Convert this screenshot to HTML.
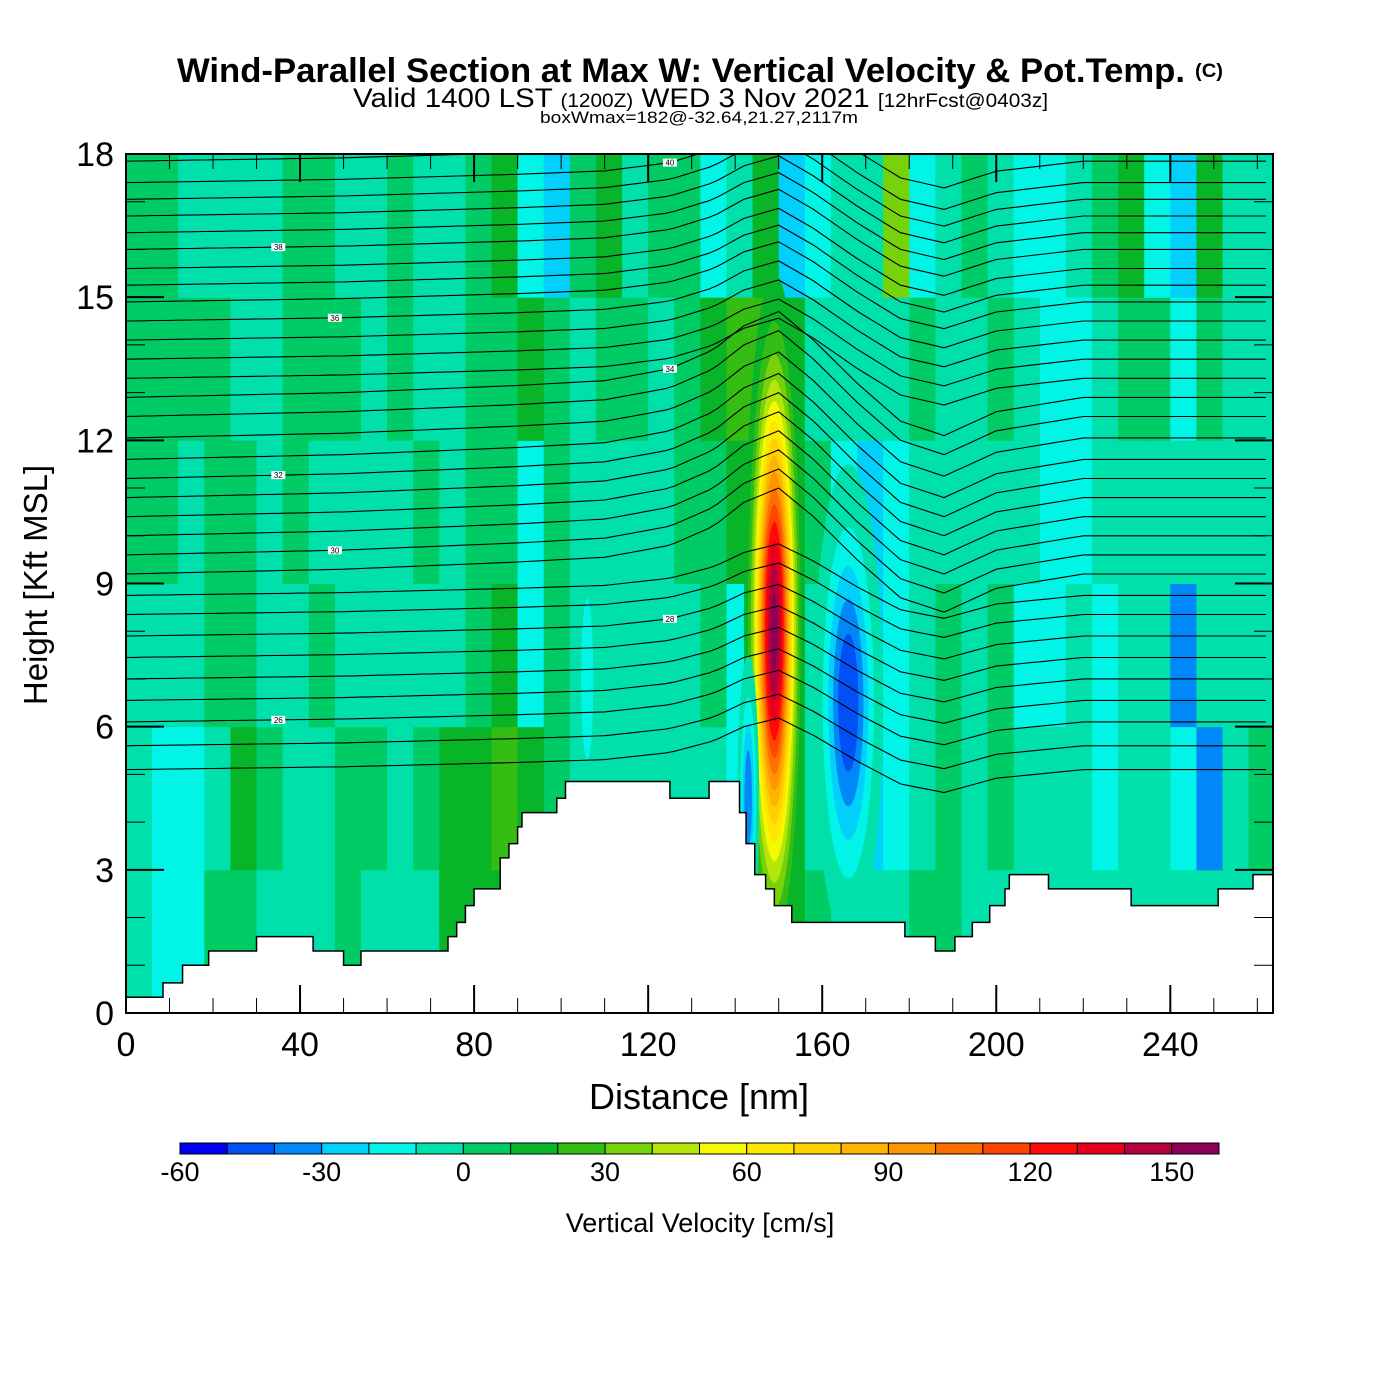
<!DOCTYPE html>
<html><head><meta charset="utf-8"><style>
html,body{margin:0;padding:0;background:#fff;}
svg{display:block;font-family:"Liberation Sans",sans-serif;}
</style></head><body>
<svg id="chart" width="1400" height="1400" viewBox="0 0 1400 1400" xmlns="http://www.w3.org/2000/svg">
<defs><clipPath id="plotclip"><rect x="126" y="154" width="1147" height="859"/></clipPath>
<clipPath id="airclip"><polygon id="airpoly" points=""/></clipPath></defs>
<g>
<text x="177" y="82" font-size="34" font-weight="bold" textLength="1008" lengthAdjust="spacingAndGlyphs">Wind-Parallel Section at Max W: Vertical Velocity &amp; Pot.Temp.</text>
<text x="1195" y="77" font-size="19" font-weight="bold" textLength="28" lengthAdjust="spacingAndGlyphs">(C)</text>
<text x="353" y="107" font-size="27" textLength="695" lengthAdjust="spacingAndGlyphs">Valid 1400 LST <tspan font-size="19">(1200Z)</tspan> WED 3 Nov 2021 <tspan font-size="19">[12hrFcst@0403z]</tspan></text>
<text x="540" y="123" font-size="17" textLength="318" lengthAdjust="spacingAndGlyphs">boxWmax=182@-32.64,21.27,2117m</text>
</g>
<g id="field" clip-path="url(#plotclip)"></g>
<g id="isen" clip-path="url(#airclip)"></g>
<g id="terrain"></g>
<g id="axes"></g>
<g id="cbar"></g>
<text x="699" y="1109" font-size="36" text-anchor="middle">Distance [nm]</text>
<text transform="translate(47,585) rotate(-90)" font-size="33" text-anchor="middle">Height [Kft MSL]</text>
<text x="700" y="1232" font-size="27" text-anchor="middle">Vertical Velocity [cm/s]</text>
</svg>
<script>
// ---- data ----
const colorLevels = [-60,-50,-40,-30,-20,-10,0,10,20,30,40,50,60,70,80,90,100,110,120,130,140,150,160];
const levelColors = ["#0000f5","#0050f5","#0088f8","#00d0fa","#00f5e6","#00e0aa","#00cc66","#08b428","#34be14","#78d20a","#b4e60a","#f5fa00","#ffe600","#ffd000","#ffb400","#ff9600","#ff6e00","#ff4600","#ff0a0a","#e6001e","#b4003c","#8c005a"];
const colorbarLabels = [-60,-30,0,30,60,90,120,150];
const colWidthNm = 6;
// rows: 0-3,3-6,6-9,9-12,12-15,15-18 kft ; 44 columns of 6 nm
const wRow0 = [-5,-15,-15,5,5,-5,-5,-5,5,-5,-5,-5,15,15,15,5,-5,-5,-5,-5,-5,-5,-5,-5,15,15,5,-5,-5,-5,5,5,-5,-5,-5,-5,-5,-5,-5,-5,-5,-5,-5,-5];
const wRow1 = [-5,-15,-15,-5,15,5,-5,-5,5,5,-5,5,15,15,25,15,5,-5,-5,-5,-5,-5,-5,-15,15,15,-5,-15,-25,-15,-5,5,-5,5,-5,-5,-5,-15,-5,-5,-15,-35,-5,5];
const wRow2 = [-5,-5,-5,5,5,-5,-5,5,-5,-5,-5,-5,-5,5,15,-15,5,-5,-5,-5,-5,-5,5,-15,15,15,-5,-25,-25,-15,-5,5,-5,5,-15,-15,-5,-15,-5,-5,-35,-5,-5,-5];
const wRow3 = [5,5,-5,5,5,-5,5,-5,-5,-5,-5,5,-5,5,5,-15,5,-5,-5,-5,-5,5,5,15,15,15,5,-15,-25,-15,-5,-5,-5,-5,-5,-15,-15,-5,-5,-5,-5,-5,-5,-5];
const wRow4 = [5,5,5,5,-5,-5,5,5,5,-5,5,-5,-5,5,5,15,5,-5,5,5,-5,5,15,25,25,15,-5,-5,-5,-5,5,-5,-5,5,-5,-15,-15,-5,5,5,-15,5,-5,-5];
const wRow5 = [5,5,-5,-5,-5,-5,5,5,-5,-5,5,-5,-5,5,15,-15,-25,5,15,-5,5,5,-15,-5,15,-25,-15,-5,-5,35,-15,-5,5,-5,-15,-15,-5,5,15,-15,-25,15,-5,-5];
const wRows = [wRow0,wRow1,wRow2,wRow3,wRow4,wRow5];
// localized features: center distance (nm), center height (kft), peak (cm/s), half-width (nm), half-height (kft)
const featX = [149, 166, 143, 106];
const featH = [8, 6.5, 4.5, 7];
const featPeak = [155, -55, -45, -25];
const featWx = [7, 8, 2.5, 2.5];
const featWh = [7.5, 5, 3, 3];
// terrain steps: [start distance nm, height kft]
const terrX = [0,8.5,13,19,30,43,50,54,74,76,78,80,86,88,90,91,99,101,125,134,141,142.5,144.5,147,149,153,179,186,190.5,194.5,198.5,202,203,212,231,251,259];
const terrH = [0.33,0.63,1.0,1.3,1.6,1.3,1.0,1.3,1.6,1.9,2.25,2.6,3.25,3.55,3.9,4.2,4.5,4.85,4.5,4.85,4.2,3.55,2.9,2.6,2.25,1.9,1.6,1.3,1.6,1.9,2.25,2.6,2.9,2.6,2.25,2.6,2.9];
// potential temperature contours: base height (kft) at left edge
const thetaBase = [17.85,17.4,17.05,16.7,16.35,16.0,15.6,15.25,14.9,14.5,14.1,13.7,13.3,12.9,12.5,12.05,11.6,11.2,10.8,10.4,10.0,9.6,9.2,8.75,8.35,7.9,7.45,7.0,6.55,6.1,5.6,5.1];
const dispX = [0,50,90,110,125,135,142,150,158,168,178,188,200,220,263];
const dispH = [0,0.1,0.25,0.35,0.6,1.0,1.5,1.8,1.2,0.3,-0.5,-0.8,-0.3,0,0];
const thetaLabels = ["40","38","36","34","32","30","28","26","24"];
// ---- axes functions ----
const X0=126, X1=1273, Y0=1013, Y1=154, XMAX=263.6, YMAX=18;
const sx = d => X0 + d*(X1-X0)/XMAX;
const sy = h => Y0 - h*(Y0-Y1)/YMAX;
const NS="http://www.w3.org/2000/svg";
function mk(tag, attrs, parent){const e=document.createElementNS(NS,tag);for(const k in attrs)e.setAttribute(k,attrs[k]);parent.appendChild(e);return e;}
function colorOf(v){let i=Math.floor((v-colorLevels[0])/10);i=Math.max(0,Math.min(levelColors.length-1,i));return levelColors[i];}
const field=document.getElementById('field');
mk('rect',{x:X0,y:Y1,width:X1-X0,height:Y0-Y1,fill:colorOf(-5)},field);
wRows.forEach((row,r)=>{row.forEach((v,c)=>{
  const e=mk('rect',{x:sx(c*colWidthNm),y:sy((r+1)*3),width:sx((c+1)*colWidthNm)-sx(c*colWidthNm)+0.5,height:sy(r*3)-sy((r+1)*3)+0.5,fill:colorOf(v)},field);
  
  
});});
featPeak.forEach((pk,i)=>{
  const base = pk>0?10:-5, sign = pk>0?1:-1;
  const lv=[]; for(let L=base; sign*L<sign*pk; L+=sign*10) lv.push(L);
  lv.forEach(L=>{
    const s=Math.sqrt(Math.log(pk/(L+sign*0.001))/Math.log(pk/base));
    const mid=L+sign*5;
    const e=mk('ellipse',{cx:sx(featX[i]),cy:sy(featH[i]),rx:Math.max(0,sx(featWx[i]*s)-sx(0)),ry:Math.max(0,sy(0)-sy(featWh[i]*s)),fill:colorOf(mid)},field);
    
    
  });
});
// terrain polygon
let tpts=[];
terrX.forEach((x,i)=>{const xe=i<terrX.length-1?terrX[i+1]:XMAX;tpts.push([sx(x),sy(terrH[i])],[sx(xe),sy(terrH[i])]);});
const terr=document.getElementById('terrain');
const tp=mk('polygon',{points:[[X0,Y0],...tpts,[X1,Y0]].map(p=>p.join(',')).join(' '),fill:'#fff',stroke:'#000','stroke-width':1.5},terr);


document.getElementById('airpoly').setAttribute('points',[[X0,Y1],...tpts,[X1,Y1]].map(p=>p.join(',')).join(' '));
// isentropes
function disp(d){for(let i=0;i<dispX.length-1;i++){if(d>=dispX[i]&&d<=dispX[i+1]){const t=(d-dispX[i])/(dispX[i+1]-dispX[i]);return dispH[i]+t*(dispH[i+1]-dispH[i]);}}return 0;}
const isen=document.getElementById('isen');
thetaBase.forEach((h,k)=>{
  const amp = h>13?0.7:(h>9?1.0:0.6);
  let d='';
  for(let x=0;x<=XMAX;x+=2){const y=h+amp*disp(x);d+=(x?'L':'M')+sx(x).toFixed(1)+','+sy(y).toFixed(1);}
  const p=mk('path',{d:d,fill:'none',stroke:'#000','stroke-width':1.1},isen);
  
  
  if(k%4===1){
    const lx=[48,125,35][k%3], ly=h+amp*disp(lx);
    const lab=thetaLabels[Math.min(thetaLabels.length-1,Math.floor(k/4))];
    mk('rect',{x:sx(lx)-7,y:sy(ly)-4,width:14,height:8,fill:'#fff'},isen);
    const t=mk('text',{x:sx(lx),y:sy(ly)+3,'font-size':8,'text-anchor':'middle'},isen);
    t.textContent=lab;
    
    
  }
});
// axes
const ax=document.getElementById('axes');
mk('rect',{x:X0,y:Y1,width:X1-X0,height:Y0-Y1,fill:'none',stroke:'#000','stroke-width':2},ax);
for(let d=10;d<XMAX;d+=10){const major=d%40===0;const L=major?28:15;
  mk('line',{x1:sx(d),x2:sx(d),y1:Y0,y2:Y0-L,stroke:'#000','stroke-width':major?2:1},ax);
  mk('line',{x1:sx(d),x2:sx(d),y1:Y1,y2:Y1+L,stroke:'#000','stroke-width':major?2:1},ax);}
for(let d=0;d<XMAX;d+=40){const t=mk('text',{x:sx(d),y:1056,'font-size':34,'text-anchor':'middle'},ax);t.textContent=d;
  }
for(let h=1;h<YMAX;h++){const major=h%3===0;const L=major?38:19;
  mk('line',{x1:X0,x2:X0+L,y1:sy(h),y2:sy(h),stroke:'#000','stroke-width':major?2:1},ax);
  mk('line',{x1:X1,x2:X1-L,y1:sy(h),y2:sy(h),stroke:'#000','stroke-width':major?2:1},ax);}
for(let h=0;h<=YMAX;h+=3){const t=mk('text',{x:114,y:sy(h)+12,'font-size':34,'text-anchor':'end'},ax);t.textContent=h;
  }
// colorbar
const cb=document.getElementById('cbar');
const CB0=180, CB1=1219, cbx=v=>CB0+(v-colorLevels[0])*(CB1-CB0)/(colorLevels[colorLevels.length-1]-colorLevels[0]);
levelColors.forEach((c,i)=>{const r=mk('rect',{x:cbx(colorLevels[i]),y:1143,width:cbx(colorLevels[i+1])-cbx(colorLevels[i]),height:11,fill:c,stroke:'#000','stroke-width':1},cb);
  });
colorbarLabels.forEach(v=>{const t=mk('text',{x:cbx(v),y:1181,'font-size':27,'text-anchor':'middle'},cb);t.textContent=v;
  });
</script>
</body></html>
